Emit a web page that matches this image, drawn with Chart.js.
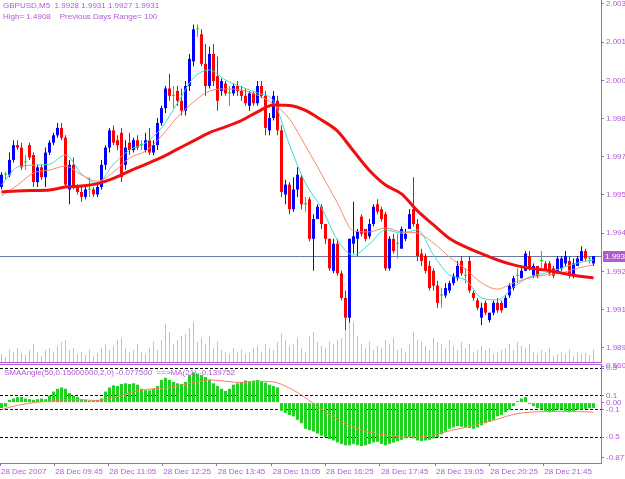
<!DOCTYPE html>
<html>
<head>
<meta charset="utf-8">
<title>GBPUSD,M5</title>
<script src="https://cdn.jsdelivr.net/npm/chart.js@4.4.1/dist/chart.umd.min.js"></script>
<style>
    html, body { margin: 0; padding: 0; background: #ffffff; }
    #wrap { position: relative; width: 625px; height: 479px; overflow: hidden; background: #ffffff; }
    canvas { position: absolute; left: 0; }
    #main { top: 0; }
    #ind { top: 363px; }
    .txt { position: absolute; font-family: "Liberation Sans", Arial, sans-serif; font-size: 8px; line-height: 11px; color: #b25ad4; white-space: pre; }
</style>
</head>
<body>
<div id="wrap">
    <canvas id="main" width="625" height="363"></canvas>
    <canvas id="ind" width="625" height="116"></canvas>
    <div class="txt" style="left:3px; top:0px;">GBPUSD,M5  1.9928 1.9931 1.9927 1.9931
High= 1.4908    Previous Days Range= 100</div>
    <div class="txt" style="left:4px; top:367px;">SMAAngle(50,0.15000000,2,0) -0.077500  ==&gt;MA(21) -0.139752</div>
</div>
<script>
// M5 candles, 28 Dec 2007
var opens = [1.9959,1.9964,1.9964,1.9970,1.9976,1.9975,1.9969,1.9976,1.9972,1.9961,
    1.9967,1.9963,1.9973,1.9977,1.9980,1.9983,1.9979,1.9958,1.9968,1.9959,
    1.9957,1.9955,1.9958,1.9958,1.9956,1.9959,1.9968,1.9975,1.9982,1.9978,
    1.9981,1.9968,1.9977,1.9974,1.9978,1.9976,1.9974,1.9978,1.9973,1.9976,
    1.9985,1.9991,1.9999,1.9996,1.9998,1.9994,1.9990,2.0000,2.0010,2.0023,
    2.0021,2.0009,2.0000,2.0013,2.0004,1.9998,2.0001,1.9997,1.9997,2.0000,
    1.9998,1.9996,1.9992,1.9997,1.9993,2.0000,1.9996,1.9982,1.9987,1.9994,
    1.9982,1.9956,1.9960,1.9950,1.9958,1.9963,1.9952,1.9954,1.9938,1.9946,
    1.9951,1.9944,1.9938,1.9925,1.9936,1.9924,1.9914,1.9906,1.9936,1.9938,
    1.9947,1.9942,1.9939,1.9944,1.9952,1.9950,1.9948,1.9926,1.9938,1.9936,
    1.9934,1.9938,1.9942,1.9950,1.9944,1.9932,1.9931,1.9927,1.9925,1.9919,
    1.9915,1.9915,1.9917,1.9920,1.9922,1.9929,1.9923,1.9929,1.9916,1.9913,
    1.9906,1.9912,1.9905,1.9908,1.9912,1.9912,1.9910,1.9915,1.9918,1.9923,
    1.9922,1.9925,1.9931,1.9923,1.9927,1.9929,1.9928,1.9928,1.9926,1.9925,
    1.9926,1.9928,1.9929,1.9923,1.9927,1.9929,1.9933,1.9930,1.9928];
var highs = [1.9965,1.9965,1.9973,1.9978,1.9978,1.9977,1.9972,1.9977,1.9973,1.9968,
    1.9968,1.9975,1.9978,1.9981,1.9985,1.9985,1.9980,1.9970,1.9971,1.9960,
    1.9959,1.9959,1.9963,1.9959,1.9961,1.9970,1.9976,1.9983,1.9984,1.9980,
    1.9983,1.9978,1.9981,1.9979,1.9980,1.9978,1.9981,1.9983,1.9978,1.9987,
    1.9992,2.0000,2.0005,2.0000,2.0000,1.9999,2.0002,2.0013,2.0025,2.0025,
    2.0023,2.0017,2.0016,2.0017,2.0012,2.0003,2.0002,2.0000,2.0001,2.0002,
    2.0000,1.9999,1.9998,1.9998,2.0002,2.0002,1.9998,1.9989,1.9998,1.9996,
    1.9984,1.9962,1.9961,1.9963,1.9967,1.9964,1.9955,1.9955,1.9948,1.9952,
    1.9952,1.9944,1.9938,1.9938,1.9938,1.9925,1.9917,1.9938,1.9953,1.9942,
    1.9948,1.9942,1.9946,1.9952,1.9954,1.9951,1.9949,1.9939,1.9940,1.9940,
    1.9943,1.9942,1.9950,1.9963,1.9946,1.9934,1.9932,1.9929,1.9926,1.9921,
    1.9918,1.9920,1.9921,1.9924,1.9929,1.9931,1.9926,1.9931,1.9917,1.9914,
    1.9912,1.9913,1.9908,1.9913,1.9914,1.9913,1.9915,1.9920,1.9923,1.9926,
    1.9926,1.9933,1.9933,1.9928,1.9927,1.9933,1.9929,1.9929,1.9927,1.9931,
    1.9931,1.9933,1.9931,1.9930,1.9931,1.9935,1.9934,1.9931,1.9931];
var lows = [1.9958,1.9962,1.9963,1.9969,1.9974,1.9966,1.9966,1.9970,1.9959,1.9959,
    1.9962,1.9959,1.9972,1.9976,1.9979,1.9978,1.9959,1.9952,1.9958,1.9956,
    1.9953,1.9954,1.9955,1.9955,1.9955,1.9958,1.9966,1.9973,1.9976,1.9974,
    1.9961,1.9966,1.9972,1.9973,1.9974,1.9974,1.9973,1.9972,1.9972,1.9974,
    1.9984,1.9989,1.9994,1.9991,1.9992,1.9988,1.9988,1.9998,2.0008,2.0020,
    2.0008,1.9996,1.9999,2.0000,1.9990,1.9996,1.9996,1.9992,1.9996,1.9996,
    1.9994,1.9992,1.9990,1.9992,1.9992,1.9995,1.9980,1.9980,1.9986,1.9980,
    1.9955,1.9952,1.9948,1.9949,1.9955,1.9950,1.9949,1.9937,1.9925,1.9946,
    1.9942,1.9936,1.9925,1.9924,1.9923,1.9913,1.9901,1.9904,1.9932,1.9931,
    1.9939,1.9937,1.9938,1.9943,1.9948,1.9945,1.9925,1.9925,1.9932,1.9930,
    1.9934,1.9937,1.9942,1.9943,1.9929,1.9927,1.9924,1.9917,1.9917,1.9910,
    1.9910,1.9914,1.9916,1.9919,1.9921,1.9923,1.9920,1.9916,1.9913,1.9909,
    1.9903,1.9907,1.9904,1.9907,1.9908,1.9908,1.9910,1.9914,1.9917,1.9920,
    1.9922,1.9925,1.9925,1.9922,1.9922,1.9926,1.9925,1.9923,1.9922,1.9925,
    1.9925,1.9927,1.9922,1.9922,1.9927,1.9929,1.9929,1.9928,1.9927];
var closes = [1.9964,1.9964,1.9970,1.9976,1.9975,1.9967,1.9969,1.9971,1.9961,1.9967,
    1.9963,1.9973,1.9977,1.9980,1.9983,1.9979,1.9960,1.9968,1.9959,1.9957,
    1.9955,1.9958,1.9958,1.9956,1.9959,1.9968,1.9975,1.9982,1.9977,1.9976,
    1.9963,1.9975,1.9974,1.9978,1.9975,1.9976,1.9978,1.9973,1.9976,1.9985,
    1.9991,1.9999,1.9996,1.9996,1.9994,1.9990,2.0000,2.0011,2.0023,2.0023,
    2.0009,2.0000,2.0013,2.0002,1.9994,2.0002,1.9997,1.9997,2.0000,1.9998,
    1.9996,1.9993,1.9997,1.9993,2.0000,1.9996,1.9983,1.9987,1.9996,1.9982,
    1.9957,1.9960,1.9950,1.9958,1.9964,1.9952,1.9952,1.9938,1.9946,1.9951,
    1.9944,1.9938,1.9926,1.9936,1.9924,1.9914,1.9906,1.9938,1.9939,1.9941,
    1.9940,1.9938,1.9944,1.9951,1.9949,1.9946,1.9926,1.9938,1.9933,1.9936,
    1.9942,1.9940,1.9948,1.9944,1.9931,1.9929,1.9925,1.9918,1.9919,1.9912,
    1.9915,1.9918,1.9920,1.9923,1.9927,1.9924,1.9923,1.9917,1.9914,1.9910,
    1.9910,1.9908,1.9908,1.9912,1.9909,1.9909,1.9914,1.9919,1.9922,1.9923,
    1.9925,1.9932,1.9926,1.9927,1.9923,1.9929,1.9925,1.9924,1.9923,1.9930,
    1.9930,1.9931,1.9923,1.9928,1.9930,1.9933,1.9930,1.9930,1.9931];
var volumes = [16,10,24,20,28,18,14,24,36,20, 12,24,28,20,32,40,44,24,28,16,
    20,14,24,12,18,28,36,24,32,44, 48,28,20,24,36,20,16,28,40,24,
    44,76,60,36,44,52,56,68,80,40, 48,36,52,28,40,24,20,16,28,20,
    24,16,20,28,32,20,36,28,24,40, 56,44,32,36,48,28,20,52,60,40,
    32,28,40,36,44,48,76,88,80,52, 36,28,40,24,32,28,44,36,48,24,
    28,20,36,60,44,40,32,24,48,40, 36,28,44,32,24,40,28,36,20,24,
    32,24,28,16,20,24,28,36,24,40, 32,28,36,20,16,24,20,28,12,16,
    20,16,24,12,20,16,18,14,24];

// moving averages, read every 4th bar
var maIdx = [0,4,8,12,16,20,24,28,32,36,40,44,48,52,56,60,64,68,72,76,
    80,84,88,92,96,100,104,108,112,116,120,124,128,132,136,140,144,148];
var maSlow = [1.99570,1.99574,1.99576,1.99578,1.99590,1.99594,1.99604,1.99625,1.99655,1.99682,
    1.99710,1.99744,1.99777,1.99811,1.99834,1.99860,1.99895,1.99923,1.99921,1.99901,
    1.99862,1.99817,1.99736,1.99657,1.99598,1.99562,1.99493,1.99436,1.99381,1.99347,
    1.99320,1.99294,1.99274,1.99261,1.99253,1.99241,1.99229,1.99221];
var maMid = [1.99554,1.99598,1.99647,1.99659,1.99675,1.99639,1.99614,1.99651,1.99708,1.99736,
    1.99797,1.99874,1.99935,1.99980,1.99988,1.99984,1.99963,1.99927,1.99866,1.99757,
    1.99643,1.99525,1.99412,1.99408,1.99424,1.99408,1.99403,1.99363,1.99306,1.99257,
    1.99201,1.99176,1.99201,1.99221,1.99233,1.99241,1.99261,1.99274];
var maFast = [1.99598,1.99671,1.99679,1.99683,1.99720,1.99643,1.99606,1.99683,1.99740,1.99769,
    1.99830,1.99931,2.00033,2.00065,2.00024,1.99996,1.99972,1.99939,1.99761,1.99606,
    1.99505,1.99375,1.99314,1.99359,1.99416,1.99403,1.99416,1.99314,1.99233,1.99213,
    1.99140,1.99132,1.99184,1.99225,1.99241,1.99261,1.99282,1.99294];

// SMAAngle histogram and its MA(21)
var smaAngle = [-0.08,-0.06,0.04,0.06,0.08,0.08,0.06,0.05,0.04,0.05,
    0.06,0.05,0.10,0.16,0.20,0.22,0.20,0.14,0.10,0.08,
    0.05,0.04,0.03,0.03,0.04,0.06,0.16,0.22,0.25,0.24,
    0.27,0.28,0.27,0.28,0.26,0.20,0.18,0.18,0.20,0.24,
    0.33,0.36,0.33,0.30,0.28,0.27,0.30,0.40,0.44,0.42,
    0.40,0.37,0.33,0.28,0.24,0.20,0.17,0.20,0.26,0.28,
    0.30,0.32,0.31,0.32,0.33,0.31,0.29,0.26,0.24,0.22,
    -0.12,-0.15,-0.18,-0.20,-0.25,-0.30,-0.38,-0.40,-0.42,-0.45,
    -0.48,-0.50,-0.53,-0.55,-0.58,-0.60,-0.62,-0.62,-0.60,-0.62,
    -0.63,-0.62,-0.60,-0.58,-0.57,-0.60,-0.62,-0.60,-0.58,-0.56,
    -0.54,-0.52,-0.50,-0.52,-0.55,-0.56,-0.55,-0.54,-0.52,-0.50,
    -0.46,-0.42,-0.38,-0.36,-0.34,-0.35,-0.36,-0.37,-0.38,-0.36,
    -0.33,-0.30,-0.28,-0.25,-0.20,-0.18,-0.14,-0.10,-0.05,0.02,
    0.06,0.08,-0.02,-0.05,-0.08,-0.10,-0.12,-0.14,-0.12,-0.10,
    -0.10,-0.12,-0.14,-0.12,-0.10,-0.10,-0.09,-0.08,-0.0775];
var smaAngleMa = [-0.10,-0.04,0.00,0.02,0.04,0.04,0.03,0.07,0.14,0.19,
    0.21,0.24,0.29,0.33,0.31,0.29,0.31,0.30,0.21,0.07,
    -0.10,-0.24,-0.36,-0.43,-0.47,-0.50,-0.50,-0.47,-0.41,-0.36,
    -0.30,-0.24,-0.17,-0.14,-0.13,-0.13,-0.13,-0.14];
var levels = [0.5, 0.1, -0.1, -0.5];

// axis labels
var priceTicks = [2.00333,2.00178,2.00023,1.99868,1.99713,1.99558,1.99403,1.99248,1.99093,1.98938];
var priceLabels = ['2.003','2.001','2.000','1.998','1.997','1.995','1.994','1.992','1.991','1.989'];
var indTicks = [0.53, 0.5, 0.1, 0, -0.1, -0.5, -0.80];
var indLabels = ['0.5603', '0.5', '0.1', '0.00', '-0.1', '-0.5', '-0.877'];
var timePos = [-0.375, 13.2, 26.7, 40.2, 53.8, 67.55, 80.9, 94.6, 108.4, 121.95, 135.45];
var timeLabels = ['28 Dec 2007','28 Dec 09:45','28 Dec 11:05','28 Dec 12:25','28 Dec 13:45',
    '28 Dec 15:05','28 Dec 16:25','28 Dec 17:45','28 Dec 19:05','28 Dec 20:25','28 Dec 21:45'];

var axisColor = '#b25ad4';
var bullColor = '#0000ff';
var bearColor = '#ff0000';
var dojiColor = '#00e000';
var fontSpec = { family: '"Liberation Sans", Arial, sans-serif', size: 8 };

function candleColor(i) {
    if (closes[i] > opens[i]) return bullColor;
    if (closes[i] < opens[i]) return bearColor;
    return dojiColor;
}

function fixWidth(width) {
    return function(scale) {
        scale.width = width;
        scale.paddingTop = 0;
        scale.paddingBottom = 0;
    };
}

function fixHeight(height) {
    return function(scale) {
        scale.height = height;
        scale.paddingLeft = 0;
        scale.paddingRight = 0;
    };
}

// bid line and the price box on the right axis
var bidPrice = closes[closes.length - 1];
var bidLine = {
    id: 'bidLine',
    beforeDatasetsDraw: function(chart) {
        var ctx = chart.ctx, area = chart.chartArea;
        var y = Math.round(chart.scales.y.getPixelForValue(bidPrice)) + 0.5;
        ctx.save();
        ctx.strokeStyle = '#6b7a9e';
        ctx.lineWidth = 1;
        ctx.beginPath();
        ctx.moveTo(area.left, y);
        ctx.lineTo(area.right, y);
        ctx.stroke();
        ctx.restore();
    },
    afterDraw: function(chart) {
        var ctx = chart.ctx, area = chart.chartArea;
        var y = Math.round(chart.scales.y.getPixelForValue(bidPrice));
        ctx.save();
        ctx.fillStyle = axisColor;
        ctx.fillRect(area.right + 2, y - 5, 30, 11);
        ctx.fillStyle = '#ffffff';
        ctx.font = '8px "Liberation Sans", Arial, sans-serif';
        ctx.textBaseline = 'middle';
        ctx.fillText(bidPrice.toFixed(4), area.right + 4, y + 0.5);
        ctx.restore();
    }
};

var bars = opens.map(function(o, i) { return i; });

new Chart(document.getElementById('main'), {
    type: 'bar',
    data: {
        datasets: [
            {
                label: 'Volume',
                yAxisID: 'yv',
                data: bars.map(function(i) { return {x: i, y: volumes[i]}; }),
                backgroundColor: 'rgba(40, 200, 40, 0.5)',
                barThickness: 1,
                grouped: false,
                inflateAmount: 0,
                order: 6
            },
            {
                label: 'Wicks',
                yAxisID: 'y',
                data: bars.map(function(i) { return {x: i, y: [lows[i], highs[i]]}; }),
                backgroundColor: function(ctx) { return candleColor(ctx.dataIndex); },
                barThickness: 1,
                grouped: false,
                inflateAmount: 0,
                order: 5
            },
            {
                label: 'Bodies',
                yAxisID: 'y',
                data: bars.map(function(i) { return {x: i, y: [opens[i], closes[i]]}; }),
                backgroundColor: function(ctx) { return candleColor(ctx.dataIndex); },
                barThickness: 3,
                minBarLength: 1,
                grouped: false,
                inflateAmount: 0,
                order: 4
            },
            {
                type: 'line',
                label: 'MA fast',
                yAxisID: 'y',
                data: maIdx.map(function(x, k) { return {x: x, y: maFast[k]}; }),
                borderColor: '#3fd8cc',
                borderWidth: 1,
                pointRadius: 0,
                cubicInterpolationMode: 'monotone',
                order: 3
            },
            {
                type: 'line',
                label: 'MA mid',
                yAxisID: 'y',
                data: maIdx.map(function(x, k) { return {x: x, y: maMid[k]}; }),
                borderColor: '#f4896e',
                borderWidth: 1,
                pointRadius: 0,
                cubicInterpolationMode: 'monotone',
                order: 2
            },
            {
                type: 'line',
                label: 'MA slow',
                yAxisID: 'y',
                data: maIdx.map(function(x, k) { return {x: x, y: maSlow[k]}; }),
                borderColor: '#ee1010',
                borderWidth: 3,
                pointRadius: 0,
                cubicInterpolationMode: 'monotone',
                order: 1
            }
        ]
    },
    options: {
        responsive: false,
        animation: false,
        layout: { padding: 0 },
        plugins: { legend: { display: false }, tooltip: { enabled: false } },
        scales: {
            x: {
                type: 'linear',
                min: -0.375,
                max: 149.875,
                offset: false,
                afterFit: fixHeight(1),
                grid: { display: false },
                border: { display: true, color: axisColor },
                ticks: { display: false }
            },
            y: {
                position: 'right',
                min: 1.98880,
                max: 2.00349,
                afterFit: fixWidth(24),
                afterBuildTicks: function(scale) {
                    scale.ticks = priceTicks.map(function(v) { return {value: v}; });
                },
                grid: { drawOnChartArea: false, drawTicks: true, tickLength: 3, color: axisColor },
                border: { display: true, color: axisColor },
                ticks: {
                    color: axisColor,
                    font: fontSpec,
                    padding: 2,
                    autoSkip: false,
                    callback: function(value, index) { return priceLabels[index]; }
                }
            },
            yv: { display: false, min: 0, max: 724 }
        }
    },
    plugins: [bidLine]
});

new Chart(document.getElementById('ind'), {
    type: 'bar',
    data: {
        datasets: [
            {
                label: 'SMAAngle',
                data: bars.map(function(i) { return {x: i, y: smaAngle[i]}; }),
                backgroundColor: '#1fd21f',
                barThickness: 3,
                inflateAmount: 0,
                order: 2
            },
            {
                type: 'line',
                label: 'MA(21)',
                data: maIdx.map(function(x, k) { return {x: x, y: smaAngleMa[k]}; }),
                borderColor: '#f2806a',
                borderWidth: 1,
                pointRadius: 0,
                cubicInterpolationMode: 'monotone',
                order: 1
            }
        ]
    },
    options: {
        responsive: false,
        animation: false,
        layout: { padding: { top: 1 } },
        plugins: { legend: { display: false }, tooltip: { enabled: false } },
        scales: {
            x: {
                type: 'linear',
                min: -0.375,
                max: 149.875,
                offset: false,
                afterBuildTicks: function(scale) {
                    scale.ticks = timePos.map(function(v) { return {value: v}; });
                },
                afterFit: fixHeight(16),
                grid: { offset: false, drawOnChartArea: false, drawTicks: true, tickLength: 3, color: axisColor },
                border: { display: true, color: axisColor },
                ticks: {
                    color: axisColor,
                    font: fontSpec,
                    padding: 1,
                    align: 'start',
                    labelOffset: 1,
                    maxRotation: 0,
                    autoSkip: false,
                    callback: function(value, index) { return timeLabels[index]; }
                }
            },
            xTop: {
                type: 'linear',
                position: 'top',
                min: -0.375,
                max: 149.875,
                offset: false,
                afterFit: fixHeight(0),
                grid: { display: false },
                border: { display: true, color: axisColor },
                ticks: { display: false }
            },
            y: {
                position: 'right',
                min: -0.877,
                max: 0.5603,
                afterFit: fixWidth(24),
                afterBuildTicks: function(scale) {
                    scale.ticks = indTicks.map(function(v) { return {value: v}; });
                },
                grid: {
                    drawOnChartArea: true,
                    drawTicks: true,
                    tickLength: 3,
                    tickColor: axisColor,
                    color: function(ctx) {
                        return ctx.tick && levels.indexOf(ctx.tick.value) >= 0 ? '#000000' : 'rgba(0,0,0,0)';
                    }
                },
                border: { display: true, color: axisColor, dash: [3, 2] },
                ticks: {
                    color: axisColor,
                    font: fontSpec,
                    padding: 2,
                    autoSkip: false,
                    callback: function(value, index) { return indLabels[index]; }
                }
            }
        }
    }
});
</script>
</body>
</html>
